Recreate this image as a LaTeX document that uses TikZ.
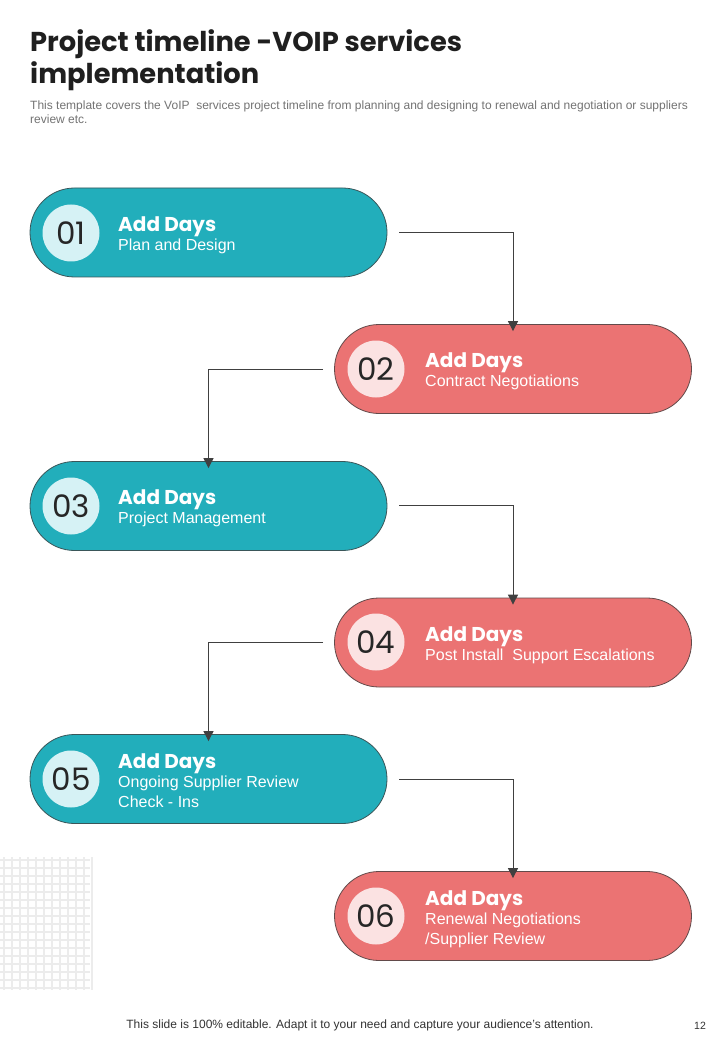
\documentclass[tikz,border=0pt]{standalone}
\usepackage{fontspec}
\setmainfont{Liberation Sans}
\newfontfamily\geo{Poppins}
\usetikzlibrary{arrows.meta}
\definecolor{tealc}{HTML}{22AEBB}
\definecolor{coralc}{HTML}{EB7373}
\definecolor{tealin}{HTML}{D6F2F5}
\definecolor{coralin}{HTML}{FBE2E2}
\definecolor{linec}{HTML}{404040}
\definecolor{gridc}{HTML}{ECECEC}
\tikzset{
  pill/.style={draw=linec!80!tealc, line width=0.8pt, rounded corners=44.5pt, minimum width=357pt, minimum height=89pt, inner sep=0pt},
  tealpill/.style={pill, fill=tealc},
  coralpill/.style={pill, fill=coralc, draw=linec!80!coralc},
  numdisc/.style={circle, minimum size=57pt, inner sep=0pt, font=\geo\fontsize{31}{31}\selectfont, text=black!85},
  headtxt/.style={anchor=west, text=white, font=\geo\bfseries\fontsize{20}{20}\selectfont, inner sep=0pt},
  subtxt/.style={anchor=north west, text=white, font=\fontsize{16}{19.5}\selectfont, align=left, inner sep=0pt},
  conn/.style={draw=linec, line width=0.9pt, -{Triangle[length=10pt,width=10pt]}}
}
\begin{document}
\begin{tikzpicture}[x=1pt,y=-1pt]
\useasboundingbox (0,0) rectangle (720,1040);
\fill[white] (0,0) rectangle (720,1040);
% grid
\foreach \i in {0,...,11} \draw[gridc, line width=1.3pt] (4+\i*8,857) -- (4+\i*8,990);
\foreach \j in {0,...,16} \draw[gridc, line width=1.3pt] (0,860+\j*8) -- (90,860+\j*8);
% title
\node[anchor=base west, inner sep=0pt, font=\geo\bfseries\fontsize{27.3}{33}\selectfont, text=black!88, align=left] (title) at (30,52) {Project timeline -VOIP services};
\node[anchor=base west, inner sep=0pt, font=\geo\bfseries\fontsize{27.3}{33}\selectfont, text=black!88] (title2) at (30,84) {implementation};
\node[anchor=base west, inner sep=0pt, font=\fontsize{12}{14}\selectfont, text=black!55, align=left] (sub) at (30,110) {This template covers the VoIP\ \ services project timeline from planning and designing to renewal and negotiation or suppliers};
\node[anchor=base west, inner sep=0pt, font=\fontsize{12}{14}\selectfont, text=black!55] (sub2) at (30,124) {review etc.};
% pills
\node[tealpill] (p1) at (208.5,232.5) {};
\node[coralpill] (p2) at (513,369) {};
\node[tealpill] (p3) at (208.5,506) {};
\node[coralpill] (p4) at (513,642.5) {};
\node[tealpill] (p5) at (208.5,779) {};
\node[coralpill] (p6) at (513,916) {};
% discs
\node[numdisc, fill=tealin] (n1) at (71,233) {01};
\node[numdisc, fill=coralin] (n2) at (376,369) {02};
\node[numdisc, fill=tealin] (n3) at (71,506) {03};
\node[numdisc, fill=coralin] (n4) at (376,642) {04};
\node[numdisc, fill=tealin] (n5) at (71,779) {05};
\node[numdisc, fill=coralin] (n6) at (376,916) {06};
% texts
\node[headtxt] (h1) at (118,227) {Add Days};
\node[subtxt] (s1) at (118,239) {Plan and Design};
\node[headtxt] (h2) at (425,363) {Add Days};
\node[subtxt] (s2) at (425,375) {Contract Negotiations};
\node[headtxt] (h3) at (118,500) {Add Days};
\node[subtxt] (s3) at (118,512) {Project Management};
\node[headtxt] (h4) at (425,637) {Add Days};
\node[subtxt] (s4) at (425,649) {Post Install\ \ Support Escalations};
\node[headtxt] (h5) at (118,764) {Add Days};
\node[subtxt] (s5) at (118,776) {Ongoing Supplier Review\\Check - Ins};
\node[headtxt] (h6) at (425,901) {Add Days};
\node[subtxt] (s6) at (425,913) {Renewal Negotiations\\/Supplier Review};
% connector anchors
\coordinate (a1) at (399,232);
\coordinate (a2) at (323,369);
\coordinate (a3) at (399,505);
\coordinate (a4) at (323,642);
\coordinate (a5) at (399,779);
\path[conn] (a1) -- (a1 -| p2) -- ([yshift=-7pt]p2.north);
\path[conn] (a2) -- (a2 -| p3) -- ([yshift=-7pt]p3.north);
\path[conn] (a3) -- (a3 -| p4) -- ([yshift=-7pt]p4.north);
\path[conn] (a4) -- (a4 -| p5) -- ([yshift=-7pt]p5.north);
\path[conn] (a5) -- (a5 -| p6) -- ([yshift=-7pt]p6.north);
% footer
\node[anchor=base, inner sep=0pt, font=\fontsize{12}{13}\selectfont, text=black!80] (foot) at (360,1028) {This slide is 100\% editable. Adapt it to your need and capture your audience’s attention.};
\node[anchor=base, inner sep=0pt, font=\fontsize{10.5}{12}\selectfont, text=black!80] (page) at (700,1029) {12};
\end{tikzpicture}
\end{document}
